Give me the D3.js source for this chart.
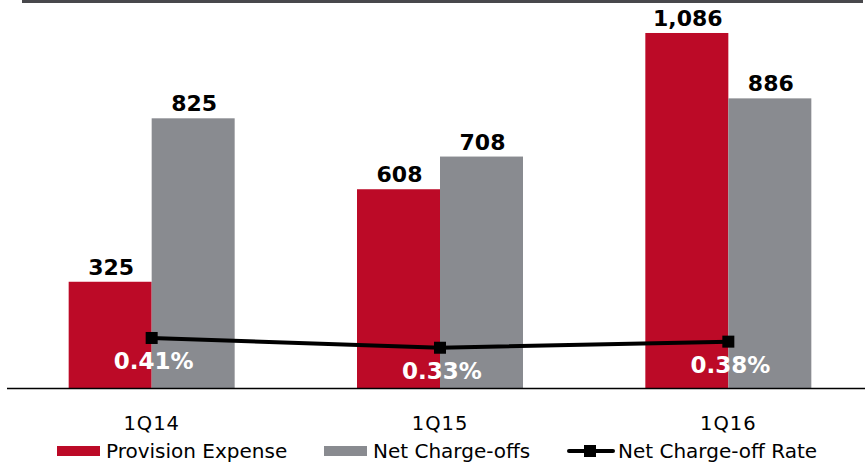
<!DOCTYPE html>
<html>
<head>
<meta charset="utf-8">
<script src="https://cdn.jsdelivr.net/npm/d3@7"></script>
<style>
  html, body { margin: 0; padding: 0; background: #fff; }
  svg { display: block; font-family: Verdana, "DejaVu Sans", sans-serif; }
</style>
</head>
<body>
<svg id="chart" width="865" height="465"></svg>
<script>
// Quarterly credit quality figures ($ millions, rate in %)
const quarters = ["1Q14", "1Q15", "1Q16"];
const provisionExpense = [325, 608, 1086];
const netChargeOffs = [825, 708, 886];
const netChargeOffRate = [0.41, 0.33, 0.38];
const seriesNames = ["Provision Expense", "Net Charge-offs", "Net Charge-off Rate"];

const colors = { provision: "#bc0a27", nco: "#898b90", line: "#000000", rule: "#48484c" };

const svg = d3.select("#chart");
const W = 865;
const baseY = 388;

// Category bands and the two bars inside each
const x = d3.scaleBand().domain(quarters).range([7, 872]).paddingInner(0).paddingOuter(0);
const inner = d3.scaleBand().domain(["p", "n"]).range([0, 166]);
const groupCenter = q => x(q) + x.bandwidth() / 2 + 0.5;
const groupLeft = q => groupCenter(q) - 83;

const y = d3.scaleLinear().domain([0, 1200]).range([baseY, baseY - 1200 * 0.3269]);
const yRate = d3.scaleLinear().domain([0, 3.2]).range([baseY, baseY - 3.2 * 122]);

// Top rule
svg.append("rect").attr("x", 22).attr("y", 0).attr("width", W - 2 - 22).attr("height", 3)
  .attr("fill", colors.rule);

const fmt = d3.format(",");

const groups = svg.selectAll("g.q").data(quarters).enter().append("g").attr("class", "q");

// Bars
groups.append("rect")
  .attr("x", (q) => groupLeft(q) + inner("p"))
  .attr("y", (q, i) => y(provisionExpense[i]))
  .attr("width", inner.bandwidth())
  .attr("height", (q, i) => baseY - y(provisionExpense[i]))
  .attr("fill", colors.provision);

groups.append("rect")
  .attr("x", (q) => groupLeft(q) + inner("n"))
  .attr("y", (q, i) => y(netChargeOffs[i]))
  .attr("width", inner.bandwidth())
  .attr("height", (q, i) => baseY - y(netChargeOffs[i]))
  .attr("fill", colors.nco);

// Bar value labels
groups.append("text")
  .attr("x", (q) => groupLeft(q) + inner("p") + inner.bandwidth() / 2 + 1)
  .attr("y", (q, i) => y(provisionExpense[i]) - 7)
  .attr("text-anchor", "middle")
  .attr("font-weight", "bold").attr("font-size", 22).attr("fill", "#000")
  .text((q, i) => fmt(provisionExpense[i]));

groups.append("text")
  .attr("x", (q) => groupLeft(q) + inner("n") + inner.bandwidth() / 2 + 1)
  .attr("y", (q, i) => y(netChargeOffs[i]) - 7)
  .attr("text-anchor", "middle")
  .attr("font-weight", "bold").attr("font-size", 22).attr("fill", "#000")
  .text((q, i) => fmt(netChargeOffs[i]));

// Baseline
svg.append("line").attr("x1", 7).attr("x2", W).attr("y1", baseY + 0.5).attr("y2", baseY + 0.5)
  .attr("stroke", "#000").attr("stroke-width", 1.5);

// Category axis labels
const xAxis = d3.axisBottom(x).tickSize(0).tickPadding(0);
const axisG = svg.append("g").attr("transform", `translate(0.5,${baseY})`).call(xAxis);
axisG.select(".domain").remove();
axisG.selectAll("text")
  .attr("y", 42).attr("dy", 0)
  .attr("font-family", "Verdana, 'DejaVu Sans', sans-serif")
  .attr("font-size", 19.5).attr("letter-spacing", 1).attr("fill", "#000");

// Rate line with square markers
const line = d3.line().x((d, i) => groupCenter(quarters[i])).y(d => yRate(d));
svg.append("path").datum(netChargeOffRate)
  .attr("d", line).attr("fill", "none")
  .attr("stroke", colors.line).attr("stroke-width", 4);

svg.selectAll("rect.marker").data(netChargeOffRate).enter().append("rect")
  .attr("class", "marker")
  .attr("x", (d, i) => groupCenter(quarters[i]) - 6)
  .attr("y", d => yRate(d) - 6)
  .attr("width", 12).attr("height", 12)
  .attr("fill", colors.line);

// Rate labels
svg.selectAll("text.rate").data(netChargeOffRate).enter().append("text")
  .attr("class", "rate")
  .attr("x", (d, i) => groupCenter(quarters[i]) + 2)
  .attr("y", d => yRate(d) + 31)
  .attr("text-anchor", "middle")
  .attr("font-weight", "bold").attr("font-size", 23).attr("fill", "#fff")
  .text(d => d.toFixed(2) + "%");

// Legend
const legendY = 458;
const leg = svg.append("g").attr("font-size", 20).attr("fill", "#000");
leg.append("rect").attr("x", 57).attr("y", 446).attr("width", 43).attr("height", 10).attr("fill", colors.provision);
leg.append("text").attr("x", 106).attr("y", legendY).text(seriesNames[0]);
leg.append("rect").attr("x", 324).attr("y", 446).attr("width", 43).attr("height", 10).attr("fill", colors.nco);
leg.append("text").attr("x", 373).attr("y", legendY).text(seriesNames[1]);
leg.append("line").attr("x1", 569).attr("x2", 613).attr("y1", 451).attr("y2", 451)
  .attr("stroke", colors.line).attr("stroke-width", 4).attr("stroke-linecap", "round");
leg.append("rect").attr("x", 584).attr("y", 445).attr("width", 12).attr("height", 12).attr("fill", colors.line);
leg.append("text").attr("x", 618).attr("y", legendY).text(seriesNames[2]);
</script>
</body>
</html>
